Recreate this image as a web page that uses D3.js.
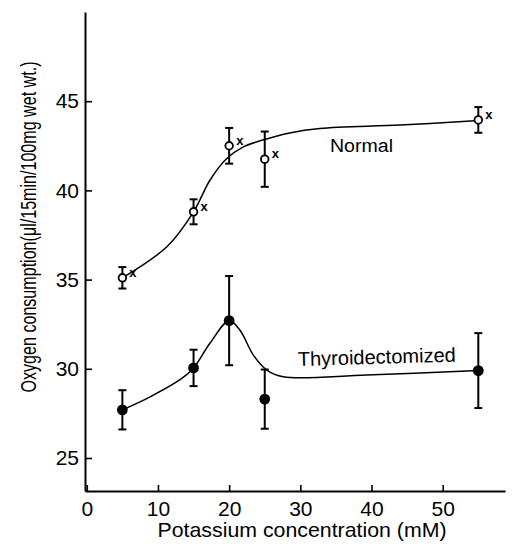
<!DOCTYPE html>
<html>
<head>
<meta charset="utf-8">
<script src="https://cdn.jsdelivr.net/npm/d3@7"></script>
<style>
  body { margin: 0; background: #fff; }
  text { font-family: "Liberation Sans", Arial, sans-serif; fill: #000; }
</style>
</head>
<body>
<div id="content"></div>
<script>
var w = 513;
var h = 546;

// measured points (mean and error half-length)
var conc = [5, 15, 20, 25, 55];
var normalMean = [35.1, 38.8, 42.5, 41.75, 43.95];
var normalErr = [0.6, 0.7, 1.0, 1.55, 0.72];
var thyroMean = [27.7, 30.05, 32.7, 28.3, 29.9];
var thyroErr = [1.1, 1.02, 2.5, 1.66, 2.1];

// hand drawn curves
var normalCurve = [[5, 35.1], [11.25, 36.84], [15, 38.8], [17.3, 40.57], [19.66, 41.79], [22, 42.44],
                   [24.7, 42.82], [28.5, 43.22], [32.75, 43.47], [44, 43.66], [54.5, 43.9]];
var thyroCurve = [[5, 27.7], [8.9, 28.43], [13.35, 29.46], [15, 30.05], [17.3, 31.43], [20, 32.7],
                  [21.5, 32.17], [23.4, 30.77], [25.3, 29.93], [27.6, 29.55], [39.3, 29.65], [55, 29.9]];

var xTicks = [0, 10, 20, 30, 40, 50];
var yTicks = [25, 30, 35, 40, 45];

var svg = d3.select("#content")
            .append("svg")
            .attr("width", w)
            .attr("height", h);

var x = d3.scaleLinear().domain([-0.25, 58.75]).range([85, 505]);
var y = d3.scaleLinear().domain([23.15, 50]).range([491, 12]);

// axes
var xAxis = svg.append("g")
    .attr("transform", "translate(0,491)")
    .call(d3.axisBottom(x).tickValues(xTicks).tickSizeInner(-6).tickSizeOuter(0).tickPadding(10));
var yAxis = svg.append("g")
    .attr("transform", "translate(85,0)")
    .call(d3.axisLeft(y).tickValues(yTicks).tickSizeInner(-7).tickSizeOuter(0).tickPadding(6));

[xAxis, yAxis].forEach(function(a){
    a.select(".domain").attr("stroke", "#000").attr("stroke-width", 2);
    a.selectAll(".tick line").attr("stroke", "#000").attr("stroke-width", 1.6);
    a.selectAll("text").attr("font-size", 21).attr("fill", "#000")
      .attr("font-family", "'Liberation Sans', sans-serif");
});

// axis titles
svg.append("text")
   .attr("x", 302)
   .attr("y", 537)
   .attr("text-anchor", "middle")
   .attr("font-size", 21)
   .attr("textLength", 289)
   .attr("lengthAdjust", "spacingAndGlyphs")
   .text("Potassium  concentration (mM)");

svg.append("text")
   .attr("transform", "translate(36,227) rotate(-90) scale(1,1.3)")
   .attr("text-anchor", "middle")
   .attr("font-size", 16.5)
   .attr("textLength", 331)
   .attr("lengthAdjust", "spacingAndGlyphs")
   .text("Oxygen  consumption(\u03bcl/15min/100mg wet wt.)");

// curves
var line = d3.line()
    .x(function(d){ return x(d[0]); })
    .y(function(d){ return y(d[1]); })
    .curve(d3.curveCatmullRom.alpha(0.5));

[normalCurve, thyroCurve].forEach(function(c){
    svg.append("path")
       .attr("d", line(c))
       .attr("fill", "none")
       .attr("stroke", "#000")
       .attr("stroke-width", 1.5);
});

function drawSeries(means, errs, filled){
    var g = svg.append("g");
    var pts = conc.map(function(c, i){ return {c: c, m: means[i], e: errs[i]}; });

    g.selectAll("line.bar").data(pts).enter().append("line")
     .attr("x1", function(d){ return x(d.c); })
     .attr("x2", function(d){ return x(d.c); })
     .attr("y1", function(d){ return y(d.m + d.e); })
     .attr("y2", function(d){ return y(d.m - d.e); })
     .attr("stroke", "#000").attr("stroke-width", 2);

    [1, -1].forEach(function(s){
        g.selectAll(null).data(pts).enter().append("line")
         .attr("x1", function(d){ return x(d.c) - 4; })
         .attr("x2", function(d){ return x(d.c) + 4; })
         .attr("y1", function(d){ return y(d.m + s * d.e); })
         .attr("y2", function(d){ return y(d.m + s * d.e); })
         .attr("stroke", "#000").attr("stroke-width", 2);
    });

    g.selectAll("circle").data(pts).enter().append("circle")
     .attr("cx", function(d){ return x(d.c); })
     .attr("cy", function(d){ return y(d.m); })
     .attr("r", filled ? 4.5 : 3.8)
     .attr("fill", filled ? "#000" : "#fff")
     .attr("stroke", "#000")
     .attr("stroke-width", 1.8);

    if (!filled) {
        g.selectAll("text").data(pts).enter().append("text")
         .attr("x", function(d){ return x(d.c) + 7; })
         .attr("y", function(d){ return y(d.m) - 1; })
         .attr("font-size", 13)
         .attr("font-weight", "bold")
         .text("x");
    }
}

drawSeries(normalMean, normalErr, false);
drawSeries(thyroMean, thyroErr, true);

// series labels
svg.append("text")
   .attr("x", 330)
   .attr("y", 152)
   .attr("font-size", 18)
   .attr("textLength", 63)
   .attr("lengthAdjust", "spacingAndGlyphs")
   .text("Normal");

svg.append("text")
   .attr("transform", "translate(298,366) rotate(-1.6)")
   .attr("font-size", 20)
   .attr("textLength", 158)
   .attr("lengthAdjust", "spacingAndGlyphs")
   .text("Thyroidectomized");
</script>
</body>
</html>
